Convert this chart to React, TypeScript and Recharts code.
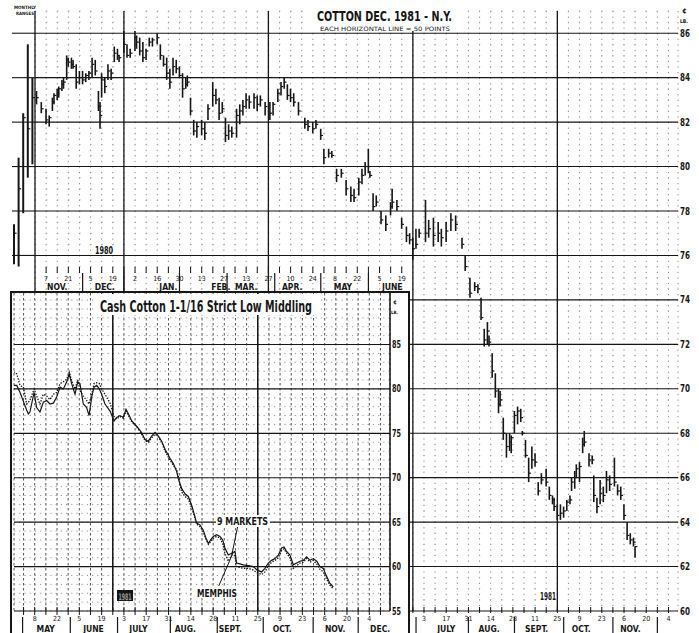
import React from "react";
import { ComposedChart, Bar, Line, XAxis, YAxis, CartesianGrid, ReferenceLine } from "recharts";

const COND = "'DejaVu Sans Condensed', 'Liberation Sans Narrow', 'DejaVu Sans', sans-serif";
const INK = "#161616";

// day numbers: 0 = Friday Oct 31 1980
const barDays = [1, 4, 7, 9, 11, 12, 14, 15, 17, 18, 20, 21, 23, 24, 26, 28, 30, 32, 34, 36, 38, 40, 41, 42, 44, 46, 48, 50, 52, 53,
  56, 58, 60, 63, 64, 66, 68, 70, 72, 74, 77, 79, 81, 83, 85, 87, 89, 91, 93, 95, 96, 98, 100, 102, 105, 107, 109, 112, 114, 116,
  118, 120, 122, 124, 127, 129, 131, 133, 135, 138, 140, 142, 145, 148, 150, 153, 155, 157, 159, 161, 163, 166, 170, 172, 175, 177, 180, 182, 185, 187,
  190, 193, 196, 199, 201, 204, 206, 208, 210, 211, 213, 215, 218, 221, 224, 225, 228, 231, 234, 236, 238, 240, 242, 246, 248, 251, 254, 256, 259, 262,
  265, 269, 271, 274, 277, 279, 281, 283, 285, 286, 288, 290, 292, 293, 295, 297, 299, 300, 302, 304, 306, 307, 309, 311, 313, 315, 317, 319, 322, 324,
  326, 327, 329, 331, 333, 335, 337, 338, 340, 341, 343, 345, 346, 349, 351, 352, 354, 356, 358, 360, 362, 365, 367, 369, 371, 373, 375, 377, 378];
const barHighs = [83.4, 82.9, 82.6, 82.3, 83.1, 83.3, 83.5, 83.6, 83.9, 84.0, 85.0, 84.9, 84.9, 84.8, 84.6, 84.3, 84.3, 84.2, 84.3, 84.9, 84.8, 83.4, 82.9, 84.2, 84.0, 84.6, 84.4, 85.4, 85.3, 85.0,
  86.1, 85.5, 85.3, 86.1, 85.9, 85.8, 85.6, 85.3, 85.8, 85.8, 86.0, 85.5, 85.0, 84.9, 84.4, 84.9, 84.8, 84.5, 84.2, 84.0, 84.1, 83.1, 82.1, 82.0, 82.1, 82.0, 82.8, 83.8, 83.5, 83.1,
  82.9, 82.2, 81.9, 81.8, 82.6, 82.8, 83.0, 83.3, 83.2, 83.3, 83.2, 83.2, 82.9, 82.9, 82.9, 83.5, 83.8, 84.0, 83.7, 83.5, 83.3, 82.9, 82.2, 82.1, 82.0, 82.1, 81.7, 80.8, 80.8, 80.7,
  79.9, 79.9, 79.4, 79.1, 79.0, 79.5, 79.9, 80.2, 80.8, 79.8, 78.8, 78.7, 78.0, 77.8, 78.4, 79.0, 78.5, 77.7, 77.3, 77.0, 76.8, 77.2, 77.2, 78.5, 77.6, 77.7, 77.5, 77.2, 77.5, 77.9,
  77.8, 76.8, 76.0, 75.0, 74.8, 74.7, 74.1, 72.7, 73.0, 72.4, 71.6, 70.7, 70.0, 69.9, 68.7, 68.0, 68.0, 67.9, 69.0, 69.2, 69.1, 68.1, 67.7, 66.9, 67.4, 67.1, 65.8, 66.2, 66.4, 65.6,
  65.2, 65.1, 64.8, 64.8, 64.7, 65.0, 65.2, 66.0, 66.3, 66.6, 66.7, 67.8, 68.1, 67.1, 67.0, 66.1, 65.1, 65.9, 65.6, 66.3, 66.1, 66.9, 65.7, 65.6, 64.8, 64.0, 63.5, 63.3, 62.9];
const barLows = [82.8, 82.4, 81.9, 81.8, 82.5, 82.8, 83.0, 83.1, 83.4, 83.5, 83.9, 84.5, 84.4, 84.4, 83.5, 83.7, 83.7, 83.8, 83.9, 84.0, 84.1, 82.5, 81.7, 83.1, 83.3, 83.9, 83.9, 84.7, 84.8, 84.7,
  85.1, 84.9, 84.9, 85.2, 85.3, 85.0, 84.7, 84.8, 85.4, 85.4, 85.5, 84.8, 84.5, 83.9, 83.5, 84.1, 84.2, 84.0, 83.1, 83.5, 83.6, 82.3, 81.4, 81.3, 81.4, 81.2, 82.1, 82.7, 82.8, 82.1,
  82.4, 81.1, 81.2, 81.3, 81.3, 81.9, 82.3, 82.6, 82.6, 82.6, 82.5, 82.7, 82.3, 82.1, 82.3, 82.9, 83.2, 83.5, 83.0, 82.9, 82.7, 82.3, 81.7, 81.6, 81.5, 81.7, 81.2, 80.1, 80.4, 80.4,
  79.3, 79.5, 78.7, 78.4, 78.4, 78.7, 79.2, 79.6, 79.7, 79.5, 78.0, 78.2, 77.4, 77.1, 77.8, 78.1, 78.0, 77.2, 76.6, 76.5, 75.8, 76.3, 76.8, 76.6, 76.8, 76.4, 76.6, 76.4, 76.6, 77.1,
  77.1, 76.3, 75.3, 74.1, 74.4, 74.3, 73.1, 71.9, 72.0, 71.9, 70.5, 69.6, 68.9, 69.2, 67.7, 66.9, 67.2, 67.1, 68.0, 68.4, 68.5, 67.9, 66.9, 65.8, 66.4, 66.5, 65.2, 65.7, 65.6, 65.0,
  64.8, 64.5, 64.1, 64.1, 64.2, 64.5, 64.8, 65.4, 65.5, 66.0, 65.8, 67.1, 67.4, 66.5, 66.6, 64.9, 64.4, 64.8, 64.9, 65.3, 65.4, 65.6, 65.2, 65.0, 64.1, 63.2, 63.0, 62.9, 62.4];
const barCloses = [83.1, 82.6, 82.1, 82.2, 82.9, 83.2, 83.3, 83.5, 83.7, 83.8, 84.8, 84.7, 84.6, 84.5, 83.8, 84.0, 83.9, 84.1, 84.2, 84.6, 84.3, 82.7, 82.3, 83.9, 83.6, 84.3, 84.2, 85.1, 85.0, 84.9,
  85.5, 85.0, 85.1, 85.8, 85.6, 85.2, 84.9, 85.2, 85.6, 85.7, 85.8, 85.0, 84.6, 84.2, 83.8, 84.5, 84.4, 84.1, 83.5, 83.7, 83.8, 82.5, 81.6, 81.8, 81.7, 81.5, 82.6, 83.2, 83.0, 82.4,
  82.6, 81.4, 81.6, 81.5, 82.3, 82.5, 82.7, 83.0, 82.9, 83.1, 82.8, 83.0, 82.7, 82.4, 82.8, 83.3, 83.6, 83.8, 83.2, 83.1, 82.9, 82.5, 81.9, 81.8, 81.7, 81.9, 81.4, 80.4, 80.6, 80.5,
  79.6, 79.7, 79.0, 78.7, 78.6, 79.3, 79.6, 80.0, 80.0, 79.6, 78.2, 78.4, 77.6, 77.4, 78.2, 78.4, 78.2, 77.4, 76.9, 76.7, 76.3, 76.5, 77.0, 77.0, 77.2, 76.9, 77.0, 76.8, 77.1, 77.6,
  77.4, 76.5, 75.5, 74.3, 74.6, 74.5, 73.2, 72.2, 72.6, 72.1, 70.8, 69.9, 69.3, 69.5, 68.0, 67.4, 67.6, 67.8, 68.8, 69.0, 68.7, 68.0, 67.0, 66.2, 66.8, 66.7, 65.4, 65.9, 65.8, 65.2,
  65.0, 64.7, 64.3, 64.4, 64.5, 64.9, 65.0, 65.8, 66.0, 66.4, 66.5, 67.5, 67.6, 66.8, 66.8, 65.2, 64.7, 65.3, 65.2, 65.9, 65.7, 65.8, 65.4, 65.2, 64.3, 63.4, 63.2, 63.1, 62.9];

// monthly ranges printed left of the daily chart (1980)
const monthlyNames = ["JUN", "JUL", "AUG", "SEP", "OCT"];
const monthlyHighs = [77.4, 80.4, 82.4, 85.5, 84.0];
const monthlyLows = [75.6, 75.5, 77.9, 79.5, 80.1];
const monthlyCloses = [77.0, 79.0, 82.2, 81.7, 83.1];

// cash cotton inset, same day numbering
const cashDays = [175.6, 177.7, 179.8, 181.9, 184, 185, 186, 188.6, 190.2, 192.3, 194.4, 196.5, 198.6, 200.7, 202.8, 204.9, 207, 209.1, 210.7, 212.2,
  214.3, 216, 217.4, 219.5, 221.6, 223.1, 224.8, 226.2, 227.9, 229.6, 231, 233.1, 236.3, 238.8, 240.4, 242.5, 244.6, 246.3, 247.8, 249.9,
  252, 254, 256.1, 258.2, 260.3, 262.4, 264.5, 266.6, 268.7, 270.8, 273.9, 276, 278.1, 279.1, 281.2, 283.3, 285.4, 287.5, 289, 290.6,
  292.7, 294.8, 296.5, 298, 299.4, 301.1, 303.2, 305.3, 307, 308.4, 310.5, 312.6, 314.7, 315.7, 317.8, 319.9, 323.1, 326.2, 328.7, 331.4,
  333.5, 335.6, 337.7, 339.8, 341.9, 344, 345.5, 347.1, 349.2, 351.3, 353.4, 355.5, 357.6, 359.7, 361.8, 363.9, 366, 368, 370.1, 372.2, 374.3, 376.4];
const nineMarkets = [80.4, 80.4, 79.6, 78.6, 77.6, 77.2, 77.4, 79.6, 77.9, 77.4, 78.5, 78.7, 78.3, 78.4, 79.1, 80.2, 80.0, 80.8, 81.7, 80.6,
  79.4, 80.8, 80.6, 78.3, 77.9, 77.0, 79.1, 80.2, 80.4, 80.0, 79.4, 78.3, 77.5, 76.4, 76.8, 77.0, 76.8, 77.7, 77.2, 76.4,
  76.0, 75.6, 75.1, 74.3, 74.1, 74.7, 75.1, 74.7, 74.1, 73.2, 72.2, 71.6, 70.7, 69.9, 68.8, 68.2, 67.9, 66.9, 66.0, 64.9,
  64.7, 64.1, 63.2, 62.6, 63.0, 63.4, 63.6, 63.4, 63.0, 62.1, 61.3, 61.5, 61.7, 60.4, 60.3, 60.2, 60.1, 60.0, 59.6, 59.4,
  59.8, 60.4, 60.7, 60.9, 61.3, 62.1, 62.2, 61.7, 61.3, 60.2, 60.4, 60.6, 60.7, 61.1, 60.7, 60.9, 60.6, 60.0, 59.8, 58.9, 58.1, 57.7];
const memphis = [81.9, 81.7, 80.4, 80.2, 78.3, 78.5, 78.7, 80.0, 79.2, 78.3, 79.4, 79.2, 78.8, 79.4, 79.6, 80.6, 80.8, 81.1, 81.9, 80.9,
  80.0, 81.0, 79.8, 79.2, 78.7, 78.3, 79.4, 80.6, 80.7, 80.6, 80.0, 79.4, 78.4, 76.9, 76.6, 76.9, 76.7, 77.5, 77.0, 76.3,
  75.9, 75.5, 74.9, 74.2, 74.0, 74.5, 74.9, 74.6, 74.0, 73.0, 72.0, 71.4, 70.9, 70.2, 68.4, 67.9, 67.6, 66.6, 65.8, 64.8,
  64.5, 63.9, 63.1, 62.5, 62.8, 63.2, 63.4, 63.2, 62.6, 61.5, 60.6, 61.3, 61.2, 60.0, 59.9, 59.8, 59.8, 59.6, 59.3, 59.1,
  59.4, 60.1, 60.5, 60.7, 61.0, 61.8, 62.0, 61.5, 61.0, 59.8, 60.1, 60.4, 60.5, 60.9, 60.5, 60.7, 60.3, 59.7, 59.4, 58.6, 57.9, 57.5];

// axis labels (Friday dates)
const dayLabelDays = [7, 21, 35, 49, 63, 77, 91, 105, 119, 133, 147, 161, 175, 189, 203, 217, 231, 245, 259, 273, 287, 301, 315, 329, 343, 357, 371, 385, 399];
const dayLabels = ["7", "21", "5", "19", "2", "16", "30", "13", "27", "13", "27", "10", "24", "8", "22", "5", "19", "3", "17", "31", "14", "28", "11", "25", "9", "23", "6", "20", "4"];
const mainMonthNames = ["NOV.", "DEC.", "JAN.", "FEB.", "MAR.", "APR.", "MAY", "JUNE", "JULY", "AUG.", "SEPT.", "OCT.", "NOV."];
const mainMonthDays = [14, 44, 84, 117, 133, 162, 194, 225, 259, 286, 316, 344, 375];
const mainMonthEdges = [30, 56, 91, 121, 151, 180, 210, 240, 273, 302, 333, 364, 392];
const cashMonthNames = ["MAY", "JUNE", "JULY", "AUG.", "SEPT.", "OCT.", "NOV.", "DEC."];
const cashMonthDays = [195.5, 225.6, 253.8, 283.3, 311.6, 344.2, 377.5, 405.8];
const cashMonthEdges = [181, 211, 240.7, 273.9, 303.4, 332.3, 363.7, 392];
const quarterDays = [56, 147, 238, 329];

const bars = barDays.map((day, i) => ({
  day, high: barHighs[i], low: barLows[i], close: barCloses[i], range: [barLows[i], barHighs[i]],
}));
const monthly = monthlyNames.map((m, i) => ({
  m, high: monthlyHighs[i], low: monthlyLows[i], close: monthlyCloses[i], range: [monthlyLows[i], monthlyHighs[i]],
}));
const cash = cashDays.map((day, i) => ({ day, nine: nineMarkets[i], memphis: memphis[i] }));

const range = (a: number, b: number, step: number) => {
  const out: number[] = [];
  for (let v = a; v <= b + 1e-9; v += step) out.push(Math.round(v * 10) / 10);
  return out;
};
const mainWeekTicks = range(7, 399, 7);
const mainPriceTicks = range(60, 87, 0.5);
const mainSolid = range(60, 86, 2);
const cashWeekTicks = range(182, 406, 7);
const cashPriceTicks = range(55, 90, 1);
const cashSolid = range(55, 85, 5);

function OhlcShape(props: any) {
  const { x, y, width, height, payload, sw = 1.6, tick = 2.3 } = props;
  if (!payload || height == null) return <g />;
  const cx = x + width / 2;
  const span = payload.high - payload.low;
  const yc = span > 0 ? y + (height * (payload.high - payload.close)) / span : y;
  return (
    <g>
      <line x1={cx} x2={cx} y1={y} y2={y + height} stroke={INK} strokeWidth={sw} />
      <line x1={cx} x2={cx + tick} y1={yc} y2={yc} stroke={INK} strokeWidth={1.2} />
    </g>
  );
}

function MainWeekTick(props: any) {
  const { x, payload } = props;
  const d = payload.value;
  const upper = d < 238;
  const t0 = upper ? 267 : 607;
  const li = dayLabelDays.indexOf(d);
  return (
    <g>
      <line x1={x} x2={x} y1={t0} y2={t0 + 6} stroke={INK} strokeWidth={1} />
      {li >= 0 && (
        <text x={x} y={upper ? 281 : 621} textAnchor="middle" fontFamily={COND} fontSize={7} fill={INK}>
          {dayLabels[li]}
        </text>
      )}
    </g>
  );
}

function MainMonthTick(props: any) {
  const { x, payload } = props;
  const d = payload.value;
  const upper = d < 238;
  if (mainMonthEdges.includes(d)) {
    return <line x1={x} x2={x} y1={upper ? 273 : 617} y2={upper ? 291 : 633} stroke={INK} strokeWidth={1.2} />;
  }
  const mi = mainMonthDays.indexOf(d);
  return (
    <text x={x} y={upper ? 290 : 632} textAnchor="middle" fontFamily={COND} fontWeight="bold" fontSize={8.5} fill={INK}>
      {mainMonthNames[mi]}
    </text>
  );
}

function MainPriceTick(props: any) {
  const { y, payload } = props;
  const v = payload.value;
  if (v % 2 !== 0 || v > 86) return <g />;
  return (
    <text x={680} y={y + 3.5} fontFamily={COND} fontWeight="bold" fontSize={10} textLength={10} lengthAdjust="spacingAndGlyphs" fill={INK}>
      {v}
    </text>
  );
}

function CashWeekTick(props: any) {
  const { x, payload } = props;
  const d = payload.value;
  const li = dayLabelDays.indexOf(d);
  return (
    <g>
      <line x1={x} x2={x} y1={314} y2={322} stroke={INK} strokeWidth={1} />
      {li >= 0 && (
        <text x={x} y={328} textAnchor="middle" fontFamily={COND} fontSize={7} fill={INK}>
          {dayLabels[li]}
        </text>
      )}
    </g>
  );
}

function CashMonthTick(props: any) {
  const { x, payload } = props;
  const d = payload.value;
  if (cashMonthEdges.includes(d)) {
    return <line x1={x} x2={x} y1={324} y2={340} stroke={INK} strokeWidth={1.2} />;
  }
  const mi = cashMonthDays.indexOf(d);
  return (
    <text x={x} y={339} textAnchor="middle" fontFamily={COND} fontWeight="bold" fontSize={8.5} fill={INK}>
      {cashMonthNames[mi]}
    </text>
  );
}

function CashPriceTick(props: any) {
  const { y, payload } = props;
  const v = payload.value;
  if (v % 5 !== 0 || v > 85) return <g />;
  return (
    <text x={380} y={y + 3.5} fontFamily={COND} fontWeight="bold" fontSize={10} textLength={9} lengthAdjust="spacingAndGlyphs" fill={INK}>
      {v}
    </text>
  );
}

// squeezed caption text: horizontal scale so the natural box matches the printed width
function Label({ x, y, w, size, children, weight = "bold", fill = INK }: any) {
  const est = String(children).length * size * 0.58;
  const sx = Math.min(1, w / est);
  return (
    <text transform={`translate(${x} ${y}) scale(${sx} 1)`} fontFamily={COND} fontWeight={weight} fontSize={size}
      textLength={w / sx} lengthAdjust="spacingAndGlyphs" fill={fill}>
      {children}
    </text>
  );
}

export default function App() {
  return (
    <div style={{ position: "absolute", left: 0, top: 0, width: 699, height: 633, background: "#fff", overflow: "hidden" }}>
      {/* main daily chart */}
      <div style={{ position: "absolute", left: 0, top: 0 }}>
        <ComposedChart width={699} height={633} data={bars} margin={{ top: 11, right: 0, bottom: 20, left: 35 }}>
          <CartesianGrid horizontal={false} stroke="#888" strokeDasharray="1.2 4.35" />
          <CartesianGrid vertical={false} stroke="#aaa" strokeDasharray="1.2 9.9" />
          <XAxis dataKey="day" type="number" domain={[0, 405]} ticks={mainWeekTicks} interval={0} allowDataOverflow
            height={1} axisLine={false} tickLine={false} tick={(p: any) => <MainWeekTick {...p} />} />
          <XAxis xAxisId="m" dataKey="day" type="number" domain={[0, 405]} ticks={[...mainMonthDays, ...mainMonthEdges]} interval={0}
            height={1} axisLine={false} tickLine={false} tick={(p: any) => <MainMonthTick {...p} />} />
          <YAxis orientation="right" width={21} domain={[60, 87]} ticks={mainPriceTicks} interval={0} allowDataOverflow
            axisLine={false} tickLine={false} tick={(p: any) => <MainPriceTick {...p} />} />
          {mainSolid.map((v) => (
            <ReferenceLine key={"h" + v} y={v} stroke={INK} strokeWidth={1.1} />
          ))}
          <ReferenceLine x={0} stroke={INK} strokeWidth={1.3} />
          {quarterDays.map((d) => (
            <ReferenceLine key={"q" + d} x={d} stroke={INK} strokeWidth={1.3} />
          ))}
          <Bar dataKey="range" barSize={2} shape={(p: any) => <OhlcShape {...p} />} isAnimationActive={false} />
        </ComposedChart>
      </div>

      {/* monthly ranges column */}
      <div style={{ position: "absolute", left: 12, top: 0 }}>
        <ComposedChart width={23} height={633} data={monthly} margin={{ top: 11, right: 0, bottom: 22, left: 0 }}>
          <XAxis dataKey="m" type="category" hide />
          <YAxis hide domain={[60, 87]} allowDataOverflow />
          {range(76, 86, 2).map((v) => (
            <ReferenceLine key={"mh" + v} y={v} stroke={INK} strokeWidth={1.1} />
          ))}
          <Bar dataKey="range" barSize={2} shape={(p: any) => <OhlcShape {...p} sw={2} tick={2.5} />} isAnimationActive={false} />
        </ComposedChart>
      </div>

      {/* cash cotton inset */}
      <div style={{ position: "absolute", left: 10, top: 291, width: 400, height: 342, boxSizing: "border-box",
        borderLeft: "2px solid #161616", borderRight: "2px solid #161616", borderTop: "2px solid #161616", background: "#fff" }}>
        <ComposedChart width={396} height={340} data={cash} margin={{ top: 0, right: 0, bottom: 20, left: 2 }}>
          <CartesianGrid horizontal={false} stroke="#555" strokeDasharray="2.5 2.5" />
          <CartesianGrid vertical={false} stroke="#999" strokeDasharray="1.2 4" />
          <XAxis dataKey="day" type="number" domain={[176, 412]} ticks={cashWeekTicks} interval={0} allowDataOverflow
            height={1} axisLine={false} tickLine={false} tick={(p: any) => <CashWeekTick {...p} />} />
          <XAxis xAxisId="m" dataKey="day" type="number" domain={[176, 412]} ticks={[...cashMonthDays, ...cashMonthEdges]} interval={0}
            height={1} axisLine={false} tickLine={false} tick={(p: any) => <CashMonthTick {...p} />} />
          <YAxis orientation="right" width={18} domain={[55, 90.8]} ticks={cashPriceTicks} interval={0} allowDataOverflow
            axisLine={false} tickLine={false} tick={(p: any) => <CashPriceTick {...p} />} />
          {cashSolid.map((v) => (
            <ReferenceLine key={"ch" + v} y={v} stroke={INK} strokeWidth={1.2} />
          ))}
          <ReferenceLine x={412} stroke={INK} strokeWidth={1.5} />
          <ReferenceLine x={238} stroke={INK} strokeWidth={1.5} />
          <ReferenceLine x={329} stroke={INK} strokeWidth={1.5} />
          <ReferenceLine segment={[{ x: 316.6, y: 64.7 }, { x: 312.8, y: 61.4 }]} stroke={INK} strokeWidth={1} />
          <ReferenceLine segment={[{ x: 304, y: 57.6 }, { x: 313.6, y: 61.6 }]} stroke={INK} strokeWidth={1} />
          <Line dataKey="memphis" type="linear" stroke={INK} strokeWidth={1.3} strokeDasharray="1.4 1.4" dot={false} isAnimationActive={false} />
          <Line dataKey="nine" type="linear" stroke={INK} strokeWidth={1.2} dot={false} isAnimationActive={false} />
        </ComposedChart>
      </div>

      {/* titles and annotations */}
      <svg width={699} height={633} style={{ position: "absolute", left: 0, top: 0, pointerEvents: "none" }}>
        <Label x={14} y={9} w={22} size={4.5}>MONTHLY</Label>
        <Label x={16} y={15} w={18} size={4.5}>RANGES</Label>
        <rect x={312} y={2} width={146} height={29} fill="#fff" />
        <Label x={317} y={21} w={135} size={13.5}>COTTON DEC. 1981 - N.Y.</Label>
        <Label x={320} y={30.5} w={130} size={6} weight="normal">EACH HORIZONTAL LINE = 50 POINTS</Label>
        <Label x={682} y={13} w={5} size={7}>¢</Label>
        <Label x={680} y={23} w={8} size={5}>LB.</Label>
        <Label x={95} y={254} w={18} size={11}>1980</Label>
        <Label x={540} y={600} w={16} size={11}>1981</Label>
        <rect x={97} y={294} width={220} height={21} fill="#fff" />
        <Label x={100} y={312} w={212} size={15}>Cash Cotton 1-1/16 Strict Low Middling</Label>
        <Label x={393} y={304} w={4} size={6}>¢</Label>
        <Label x={391} y={314} w={7} size={4.5}>LB.</Label>
        <rect x={216} y={515} width={54} height={12} fill="#fff" />
        <Label x={217} y={525} w={51} size={11}>9 MARKETS</Label>
        <rect x={196} y={586} width={43} height={12} fill="#fff" />
        <Label x={197} y={597} w={40} size={11}>MEMPHIS</Label>
        <rect x={117} y={590} width={16} height={11} fill={INK} />
        <Label x={118.5} y={599.5} w={13} size={9} fill="#9a9a9a">1981</Label>
      </svg>
    </div>
  );
}
